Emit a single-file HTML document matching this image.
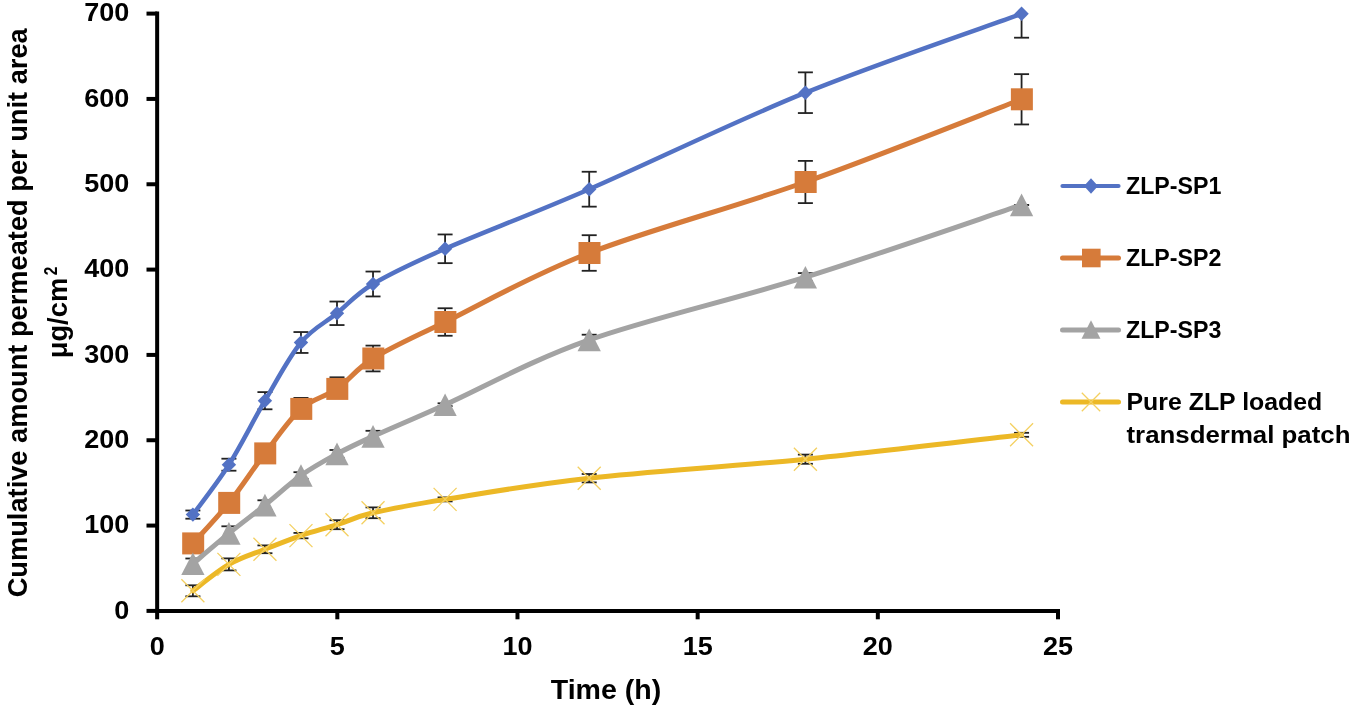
<!DOCTYPE html><html><head><meta charset="utf-8"><style>html,body{margin:0;padding:0;background:#fff;}svg{display:block;filter:blur(0.45px);}text{font-family:"Liberation Sans",sans-serif;font-weight:bold;fill:#000;}</style></head><body>
<svg width="1355" height="709" viewBox="0 0 1355 709">
<rect width="1355" height="709" fill="#fff"/>
<g stroke="#000" stroke-width="4" stroke-linecap="butt" fill="none">
<path d="M157.15,11.60 L157.15,612.90"/>
<path d="M155.15,610.90 L1060.00,610.90"/>
<path d="M146.5,610.90 L157.15,610.90"/>
<path d="M146.5,525.57 L157.15,525.57"/>
<path d="M146.5,440.24 L157.15,440.24"/>
<path d="M146.5,354.91 L157.15,354.91"/>
<path d="M146.5,269.59 L157.15,269.59"/>
<path d="M146.5,184.26 L157.15,184.26"/>
<path d="M146.5,98.93 L157.15,98.93"/>
<path d="M146.5,13.60 L157.15,13.60"/>
<path d="M157.15,610.90 L157.15,619.3"/>
<path d="M337.32,610.90 L337.32,619.3"/>
<path d="M517.49,610.90 L517.49,619.3"/>
<path d="M697.66,610.90 L697.66,619.3"/>
<path d="M877.83,610.90 L877.83,619.3"/>
<path d="M1058.00,610.90 L1058.00,619.3"/>
</g>
<text transform="translate(129.3,618.50) scale(1.08,1)" font-size="25" text-anchor="end">0</text>
<text transform="translate(129.3,533.17) scale(1.08,1)" font-size="25" text-anchor="end">100</text>
<text transform="translate(129.3,447.84) scale(1.08,1)" font-size="25" text-anchor="end">200</text>
<text transform="translate(129.3,362.51) scale(1.08,1)" font-size="25" text-anchor="end">300</text>
<text transform="translate(129.3,277.19) scale(1.08,1)" font-size="25" text-anchor="end">400</text>
<text transform="translate(129.3,191.86) scale(1.08,1)" font-size="25" text-anchor="end">500</text>
<text transform="translate(129.3,106.53) scale(1.08,1)" font-size="25" text-anchor="end">600</text>
<text transform="translate(129.3,21.20) scale(1.08,1)" font-size="25" text-anchor="end">700</text>
<text transform="translate(157.15,654.5) scale(1.08,1)" font-size="25" text-anchor="middle">0</text>
<text transform="translate(337.32,654.5) scale(1.08,1)" font-size="25" text-anchor="middle">5</text>
<text transform="translate(517.49,654.5) scale(1.08,1)" font-size="25" text-anchor="middle">10</text>
<text transform="translate(697.66,654.5) scale(1.08,1)" font-size="25" text-anchor="middle">15</text>
<text transform="translate(877.83,654.5) scale(1.08,1)" font-size="25" text-anchor="middle">20</text>
<text transform="translate(1058.00,654.5) scale(1.08,1)" font-size="25" text-anchor="middle">25</text>
<text x="606" y="699" font-size="28" text-anchor="middle" textLength="110.5" lengthAdjust="spacingAndGlyphs">Time (h)</text>
<text transform="translate(26.8,312.8) rotate(-90)" x="0" y="0" font-size="28.5" text-anchor="middle" textLength="569" lengthAdjust="spacingAndGlyphs">Cumulative amount permeated per unit area</text>
<text transform="translate(66.8,358.3) rotate(-90)" x="0" y="0" font-size="28.5" textLength="80.5" lengthAdjust="spacingAndGlyphs">μg/cm</text>
<text transform="translate(57.3,275.2) rotate(-90)" x="0" y="0" font-size="18.5" textLength="8.5" lengthAdjust="spacingAndGlyphs">2</text>
<g stroke="#222222" stroke-width="1.8"><line x1="192.88" y1="510.50" x2="192.88" y2="518.70"/><line x1="185.38" y1="510.50" x2="200.38" y2="510.50"/><line x1="185.38" y1="518.70" x2="200.38" y2="518.70"/><line x1="228.91" y1="458.70" x2="228.91" y2="470.70"/><line x1="221.41" y1="458.70" x2="236.41" y2="458.70"/><line x1="221.41" y1="470.70" x2="236.41" y2="470.70"/><line x1="264.94" y1="392.10" x2="264.94" y2="409.30"/><line x1="257.44" y1="392.10" x2="272.44" y2="392.10"/><line x1="257.44" y1="409.30" x2="272.44" y2="409.30"/><line x1="300.97" y1="332.05" x2="300.97" y2="352.95"/><line x1="293.47" y1="332.05" x2="308.47" y2="332.05"/><line x1="293.47" y1="352.95" x2="308.47" y2="352.95"/><line x1="337.00" y1="301.55" x2="337.00" y2="325.05"/><line x1="329.50" y1="301.55" x2="344.50" y2="301.55"/><line x1="329.50" y1="325.05" x2="344.50" y2="325.05"/><line x1="373.03" y1="271.55" x2="373.03" y2="296.45"/><line x1="365.53" y1="271.55" x2="380.53" y2="271.55"/><line x1="365.53" y1="296.45" x2="380.53" y2="296.45"/><line x1="445.09" y1="234.45" x2="445.09" y2="263.15"/><line x1="437.59" y1="234.45" x2="452.59" y2="234.45"/><line x1="437.59" y1="263.15" x2="452.59" y2="263.15"/><line x1="589.21" y1="171.75" x2="589.21" y2="206.65"/><line x1="581.71" y1="171.75" x2="596.71" y2="171.75"/><line x1="581.71" y1="206.65" x2="596.71" y2="206.65"/><line x1="805.39" y1="72.35" x2="805.39" y2="113.05"/><line x1="797.89" y1="72.35" x2="812.89" y2="72.35"/><line x1="797.89" y1="113.05" x2="812.89" y2="113.05"/><line x1="1021.57" y1="13.60" x2="1021.57" y2="37.70"/><line x1="1014.07" y1="37.70" x2="1029.07" y2="37.70"/></g>
<path d="M192.88,514.60 C198.88,506.28 216.90,483.68 228.91,464.70 C240.92,445.72 252.93,421.07 264.94,400.70 C276.95,380.33 288.96,357.07 300.97,342.50 C312.98,327.93 324.99,323.05 337.00,313.30 C349.01,303.55 355.01,294.75 373.03,284.00 C391.04,273.25 409.06,264.60 445.09,248.80 C481.12,233.00 529.16,215.22 589.21,189.20 C649.26,163.18 733.33,121.93 805.39,92.70 C877.45,63.47 985.54,26.95 1021.57,13.80" stroke="#5372C4" stroke-width="4.5" fill="none" stroke-linejoin="round" stroke-linecap="round"/>
<path d="M192.88,507.40 L200.08,514.60 L192.88,521.80 L185.68,514.60 Z" fill="#5372C4"/>
<path d="M228.91,457.50 L236.11,464.70 L228.91,471.90 L221.71,464.70 Z" fill="#5372C4"/>
<path d="M264.94,393.50 L272.14,400.70 L264.94,407.90 L257.74,400.70 Z" fill="#5372C4"/>
<path d="M300.97,335.30 L308.17,342.50 L300.97,349.70 L293.77,342.50 Z" fill="#5372C4"/>
<path d="M337.00,306.10 L344.20,313.30 L337.00,320.50 L329.80,313.30 Z" fill="#5372C4"/>
<path d="M373.03,276.80 L380.23,284.00 L373.03,291.20 L365.83,284.00 Z" fill="#5372C4"/>
<path d="M445.09,241.60 L452.29,248.80 L445.09,256.00 L437.89,248.80 Z" fill="#5372C4"/>
<path d="M589.21,182.00 L596.41,189.20 L589.21,196.40 L582.01,189.20 Z" fill="#5372C4"/>
<path d="M805.39,85.50 L812.59,92.70 L805.39,99.90 L798.19,92.70 Z" fill="#5372C4"/>
<path d="M1021.57,6.60 L1028.77,13.80 L1021.57,21.00 L1014.37,13.80 Z" fill="#5372C4"/>
<g stroke="#222222" stroke-width="1.8"><line x1="192.88" y1="535.40" x2="192.88" y2="551.40"/><line x1="185.38" y1="535.40" x2="200.38" y2="535.40"/><line x1="185.38" y1="551.40" x2="200.38" y2="551.40"/><line x1="228.91" y1="494.90" x2="228.91" y2="510.90"/><line x1="221.41" y1="494.90" x2="236.41" y2="494.90"/><line x1="221.41" y1="510.90" x2="236.41" y2="510.90"/><line x1="264.94" y1="445.40" x2="264.94" y2="461.40"/><line x1="257.44" y1="445.40" x2="272.44" y2="445.40"/><line x1="257.44" y1="461.40" x2="272.44" y2="461.40"/><line x1="300.97" y1="397.90" x2="300.97" y2="417.90"/><line x1="293.47" y1="397.90" x2="308.47" y2="397.90"/><line x1="293.47" y1="417.90" x2="308.47" y2="417.90"/><line x1="337.00" y1="377.30" x2="337.00" y2="397.90"/><line x1="329.50" y1="377.30" x2="344.50" y2="377.30"/><line x1="329.50" y1="397.90" x2="344.50" y2="397.90"/><line x1="373.03" y1="345.60" x2="373.03" y2="371.40"/><line x1="365.53" y1="345.60" x2="380.53" y2="345.60"/><line x1="365.53" y1="371.40" x2="380.53" y2="371.40"/><line x1="445.09" y1="308.25" x2="445.09" y2="335.75"/><line x1="437.59" y1="308.25" x2="452.59" y2="308.25"/><line x1="437.59" y1="335.75" x2="452.59" y2="335.75"/><line x1="589.21" y1="235.20" x2="589.21" y2="270.80"/><line x1="581.71" y1="235.20" x2="596.71" y2="235.20"/><line x1="581.71" y1="270.80" x2="596.71" y2="270.80"/><line x1="805.39" y1="160.90" x2="805.39" y2="203.10"/><line x1="797.89" y1="160.90" x2="812.89" y2="160.90"/><line x1="797.89" y1="203.10" x2="812.89" y2="203.10"/><line x1="1021.57" y1="74.15" x2="1021.57" y2="124.45"/><line x1="1014.07" y1="74.15" x2="1029.07" y2="74.15"/><line x1="1014.07" y1="124.45" x2="1029.07" y2="124.45"/></g>
<path d="M192.88,543.40 C198.88,536.65 216.90,517.90 228.91,502.90 C240.92,487.90 252.93,469.07 264.94,453.40 C276.95,437.73 288.96,419.65 300.97,408.90 C312.98,398.15 324.99,397.30 337.00,388.90 C349.01,380.50 355.01,369.65 373.03,358.50 C391.04,347.35 409.06,339.58 445.09,322.00 C481.12,304.42 529.16,276.33 589.21,253.00 C649.26,229.67 733.33,207.62 805.39,182.00 C877.45,156.38 985.54,113.08 1021.57,99.30" stroke="#D67B3A" stroke-width="5" fill="none" stroke-linejoin="round" stroke-linecap="round"/>
<rect x="182.18" y="532.40" width="22.00" height="22.00" fill="#D67B3A"/>
<rect x="218.21" y="491.90" width="22.00" height="22.00" fill="#D67B3A"/>
<rect x="254.24" y="442.40" width="22.00" height="22.00" fill="#D67B3A"/>
<rect x="290.27" y="397.90" width="22.00" height="22.00" fill="#D67B3A"/>
<rect x="326.30" y="377.90" width="22.00" height="22.00" fill="#D67B3A"/>
<rect x="362.33" y="347.50" width="22.00" height="22.00" fill="#D67B3A"/>
<rect x="434.39" y="311.00" width="22.00" height="22.00" fill="#D67B3A"/>
<rect x="578.51" y="242.00" width="22.00" height="22.00" fill="#D67B3A"/>
<rect x="794.69" y="171.00" width="22.00" height="22.00" fill="#D67B3A"/>
<rect x="1010.87" y="88.30" width="22.00" height="22.00" fill="#D67B3A"/>
<g stroke="#222222" stroke-width="1.8"><line x1="192.88" y1="558.50" x2="192.88" y2="569.10"/><line x1="185.38" y1="558.50" x2="200.38" y2="558.50"/><line x1="185.38" y1="569.10" x2="200.38" y2="569.10"/><line x1="228.91" y1="526.30" x2="228.91" y2="540.50"/><line x1="221.41" y1="526.30" x2="236.41" y2="526.30"/><line x1="221.41" y1="540.50" x2="236.41" y2="540.50"/><line x1="264.94" y1="500.30" x2="264.94" y2="509.90"/><line x1="257.44" y1="500.30" x2="272.44" y2="500.30"/><line x1="257.44" y1="509.90" x2="272.44" y2="509.90"/><line x1="300.97" y1="472.20" x2="300.97" y2="478.80"/><line x1="293.47" y1="472.20" x2="308.47" y2="472.20"/><line x1="293.47" y1="478.80" x2="308.47" y2="478.80"/><line x1="337.00" y1="450.00" x2="337.00" y2="457.80"/><line x1="329.50" y1="450.00" x2="344.50" y2="450.00"/><line x1="329.50" y1="457.80" x2="344.50" y2="457.80"/><line x1="373.03" y1="430.80" x2="373.03" y2="442.00"/><line x1="365.53" y1="430.80" x2="380.53" y2="430.80"/><line x1="365.53" y1="442.00" x2="380.53" y2="442.00"/><line x1="445.09" y1="403.30" x2="445.09" y2="406.10"/><line x1="437.59" y1="403.30" x2="452.59" y2="403.30"/><line x1="437.59" y1="406.10" x2="452.59" y2="406.10"/><line x1="589.21" y1="334.70" x2="589.21" y2="345.10"/><line x1="581.71" y1="334.70" x2="596.71" y2="334.70"/><line x1="581.71" y1="345.10" x2="596.71" y2="345.10"/><line x1="805.39" y1="273.10" x2="805.39" y2="281.30"/><line x1="797.89" y1="273.10" x2="812.89" y2="273.10"/><line x1="797.89" y1="281.30" x2="812.89" y2="281.30"/><line x1="1021.57" y1="204.90" x2="1021.57" y2="204.90"/><line x1="1014.07" y1="204.90" x2="1029.07" y2="204.90"/><line x1="1014.07" y1="204.90" x2="1029.07" y2="204.90"/></g>
<path d="M192.88,563.80 C198.88,558.73 216.90,543.18 228.91,533.40 C240.92,523.62 252.93,514.75 264.94,505.10 C276.95,495.45 288.96,484.03 300.97,475.50 C312.98,466.97 324.99,460.42 337.00,453.90 C349.01,447.38 355.01,444.60 373.03,436.40 C391.04,428.20 409.06,420.78 445.09,404.70 C481.12,388.62 529.16,361.15 589.21,339.90 C649.26,318.65 733.33,299.70 805.39,277.20 C877.45,254.70 985.54,216.95 1021.57,204.90" stroke="#A3A3A3" stroke-width="5" fill="none" stroke-linejoin="round" stroke-linecap="round"/>
<path d="M192.88,552.50 L204.52,575.10 L181.24,575.10 Z" fill="#A3A3A3"/>
<path d="M228.91,522.10 L240.55,544.70 L217.27,544.70 Z" fill="#A3A3A3"/>
<path d="M264.94,493.80 L276.58,516.40 L253.30,516.40 Z" fill="#A3A3A3"/>
<path d="M300.97,464.20 L312.61,486.80 L289.33,486.80 Z" fill="#A3A3A3"/>
<path d="M337.00,442.60 L348.64,465.20 L325.36,465.20 Z" fill="#A3A3A3"/>
<path d="M373.03,425.10 L384.67,447.70 L361.39,447.70 Z" fill="#A3A3A3"/>
<path d="M445.09,393.40 L456.73,416.00 L433.45,416.00 Z" fill="#A3A3A3"/>
<path d="M589.21,328.60 L600.85,351.20 L577.57,351.20 Z" fill="#A3A3A3"/>
<path d="M805.39,265.90 L817.03,288.50 L793.75,288.50 Z" fill="#A3A3A3"/>
<path d="M1021.57,193.60 L1033.21,216.20 L1009.93,216.20 Z" fill="#A3A3A3"/>
<g stroke="#222222" stroke-width="1.8"><line x1="192.88" y1="585.30" x2="192.88" y2="596.30"/><line x1="185.38" y1="585.30" x2="200.38" y2="585.30"/><line x1="185.38" y1="596.30" x2="200.38" y2="596.30"/><line x1="228.91" y1="558.40" x2="228.91" y2="570.40"/><line x1="221.41" y1="558.40" x2="236.41" y2="558.40"/><line x1="221.41" y1="570.40" x2="236.41" y2="570.40"/><line x1="264.94" y1="545.40" x2="264.94" y2="553.20"/><line x1="257.44" y1="545.40" x2="272.44" y2="545.40"/><line x1="257.44" y1="553.20" x2="272.44" y2="553.20"/><line x1="300.97" y1="532.90" x2="300.97" y2="538.30"/><line x1="293.47" y1="532.90" x2="308.47" y2="532.90"/><line x1="293.47" y1="538.30" x2="308.47" y2="538.30"/><line x1="337.00" y1="520.20" x2="337.00" y2="529.20"/><line x1="329.50" y1="520.20" x2="344.50" y2="520.20"/><line x1="329.50" y1="529.20" x2="344.50" y2="529.20"/><line x1="373.03" y1="507.40" x2="373.03" y2="518.20"/><line x1="365.53" y1="507.40" x2="380.53" y2="507.40"/><line x1="365.53" y1="518.20" x2="380.53" y2="518.20"/><line x1="445.09" y1="497.40" x2="445.09" y2="501.40"/><line x1="437.59" y1="497.40" x2="452.59" y2="497.40"/><line x1="437.59" y1="501.40" x2="452.59" y2="501.40"/><line x1="589.21" y1="474.00" x2="589.21" y2="482.40"/><line x1="581.71" y1="474.00" x2="596.71" y2="474.00"/><line x1="581.71" y1="482.40" x2="596.71" y2="482.40"/><line x1="805.39" y1="454.60" x2="805.39" y2="463.80"/><line x1="797.89" y1="454.60" x2="812.89" y2="454.60"/><line x1="797.89" y1="463.80" x2="812.89" y2="463.80"/><line x1="1021.57" y1="432.80" x2="1021.57" y2="436.80"/><line x1="1014.07" y1="432.80" x2="1029.07" y2="432.80"/><line x1="1014.07" y1="436.80" x2="1029.07" y2="436.80"/></g>
<path d="M192.88,590.80 C198.88,586.40 216.90,571.32 228.91,564.40 C240.92,557.48 252.93,554.10 264.94,549.30 C276.95,544.50 288.96,539.70 300.97,535.60 C312.98,531.50 324.99,528.50 337.00,524.70 C349.01,520.90 355.01,517.02 373.03,512.80 C391.04,508.58 409.06,505.17 445.09,499.40 C481.12,493.63 529.16,484.90 589.21,478.20 C649.26,471.50 733.33,466.43 805.39,459.20 C877.45,451.97 985.54,438.87 1021.57,434.80" stroke="#ECB826" stroke-width="5" fill="none" stroke-linejoin="round" stroke-linecap="round"/>
<path d="M181.38,579.30 L204.38,602.30 M181.38,602.30 L204.38,579.30" stroke="#F4D060" stroke-width="1.3" fill="none"/>
<path d="M217.41,552.90 L240.41,575.90 M217.41,575.90 L240.41,552.90" stroke="#F4D060" stroke-width="1.3" fill="none"/>
<path d="M253.44,537.80 L276.44,560.80 M253.44,560.80 L276.44,537.80" stroke="#F4D060" stroke-width="1.3" fill="none"/>
<path d="M289.47,524.10 L312.47,547.10 M289.47,547.10 L312.47,524.10" stroke="#F4D060" stroke-width="1.3" fill="none"/>
<path d="M325.50,513.20 L348.50,536.20 M325.50,536.20 L348.50,513.20" stroke="#F4D060" stroke-width="1.3" fill="none"/>
<path d="M361.53,501.30 L384.53,524.30 M361.53,524.30 L384.53,501.30" stroke="#F4D060" stroke-width="1.3" fill="none"/>
<path d="M433.59,487.90 L456.59,510.90 M433.59,510.90 L456.59,487.90" stroke="#F4D060" stroke-width="1.3" fill="none"/>
<path d="M577.71,466.70 L600.71,489.70 M577.71,489.70 L600.71,466.70" stroke="#F4D060" stroke-width="1.3" fill="none"/>
<path d="M793.89,447.70 L816.89,470.70 M793.89,470.70 L816.89,447.70" stroke="#F4D060" stroke-width="1.3" fill="none"/>
<path d="M1010.07,423.30 L1033.07,446.30 M1010.07,446.30 L1033.07,423.30" stroke="#F4D060" stroke-width="1.3" fill="none"/>
<path d="M1062.5,186.0 L1118.5,186.0" stroke="#5372C4" stroke-width="4.2" stroke-linecap="round"/>
<path d="M1091.00,178.20 L1098.00,186.00 L1091.00,193.80 L1084.00,186.00 Z" fill="#5372C4"/>
<path d="M1062.5,258.0 L1118.5,258.0" stroke="#D67B3A" stroke-width="5" stroke-linecap="round"/>
<rect x="1082.00" y="248.70" width="18.60" height="18.60" fill="#D67B3A"/>
<path d="M1062.5,330.0 L1118.5,330.0" stroke="#A3A3A3" stroke-width="5" stroke-linecap="round"/>
<path d="M1091.00,320.30 L1100.48,338.70 L1081.52,338.70 Z" fill="#A3A3A3"/>
<path d="M1062.5,402.0 L1118.5,402.0" stroke="#ECB826" stroke-width="5" stroke-linecap="round"/>
<path d="M1081.80,392.80 L1100.20,411.20 M1081.80,411.20 L1100.20,392.80" stroke="#F4D060" stroke-width="1.3" fill="none"/>
<text x="1126" y="193.6" font-size="23.5" textLength="95.4" lengthAdjust="spacingAndGlyphs">ZLP-SP1</text>
<text x="1126" y="265.7" font-size="23.5" textLength="95.4" lengthAdjust="spacingAndGlyphs">ZLP-SP2</text>
<text x="1126" y="338.1" font-size="23.5" textLength="95.4" lengthAdjust="spacingAndGlyphs">ZLP-SP3</text>
<text x="1126.5" y="409.7" font-size="23" textLength="195.8" lengthAdjust="spacingAndGlyphs">Pure ZLP loaded</text>
<text x="1126.5" y="442.9" font-size="23" textLength="224" lengthAdjust="spacingAndGlyphs">transdermal patch</text>
</svg></body></html>
